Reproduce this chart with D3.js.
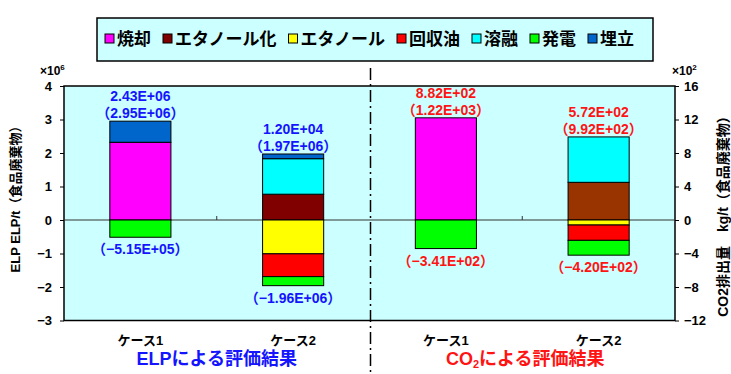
<!DOCTYPE html>
<html>
<head>
<meta charset="utf-8">
<script src="https://cdn.jsdelivr.net/npm/d3@7"></script>
<style>
  body { margin: 0; background: #fff; }
  text { font-family: "Liberation Sans", "Noto Sans CJK JP", sans-serif; font-weight: bold; }
</style>
</head>
<body>
<script>
// categories / series
const categories = ["ケース1", "ケース2", "ケース1", "ケース2"];
const series = ["焼却", "エタノール化", "エタノール", "回収油", "溶融", "発電", "埋立"];
const seriesColors = ["#ff00ff", "#800000", "#ffff00", "#ff0000", "#00ffff", "#00ff00", "#0066cc"];

// ELP/t values (stack order follows series)
const elpCase1 = [2.32e6, 0, 0, 0, 0, -0.515e6, 0.63e6];
const elpCase2 = [0, 0.77e6, -1.01e6, -0.68e6, 1.06e6, -0.27e6, 0.14e6];
// CO2 kg/t values
const co2Case1 = [1220, 0, 0, 0, 0, -341, 0];
const co2Case2 = [0, 450, -60, -183, 542, -177, 0];

const netLabels = ["2.43E+06", "1.20E+04", "8.82E+02", "5.72E+02"];
const posLabels = ["（2.95E+06）", "（1.97E+06）", "（1.22E+03）", "（9.92E+02）"];
const negLabels = ["（−5.15E+05）", "（−1.96E+06）", "（−3.41E+02）", "（−4.20E+02）"];

const leftTicks = [4, 3, 2, 1, 0, -1, -2, -3];
const rightTicks = [16, 12, 8, 4, 0, -4, -8, -12];

let W = 731, H = 374;
let plotL = 64, plotR = 675, plotT = 86, plotB = 320.5;

let svg = d3.select("body").append("svg")
  .attr("width", W).attr("height", H);

let x = d3.scaleBand().domain(d3.range(categories.length))
  .range([plotL, plotR]).paddingInner(0.6).paddingOuter(0.3);
let yL = d3.scaleLinear().domain([-3e6, 4e6]).range([plotB, plotT]);
let yR = d3.scaleLinear().domain([-1200, 1600]).range([plotB, plotT]);

// plot background
svg.append("rect")
  .attr("x", plotL).attr("y", plotT)
  .attr("width", plotR - plotL).attr("height", plotB - plotT)
  .attr("fill", "#ccffff").attr("stroke", "#000").attr("stroke-width", 1.5);

// zero line
svg.append("line")
  .attr("x1", plotL).attr("x2", plotR)
  .attr("y1", yL(0)).attr("y2", yL(0))
  .attr("stroke", "#333").attr("stroke-width", 1);

// small category ticks on zero line (band boundaries)
[1, 3].forEach(i => {
  let bx = plotL + x.step() * i;
  svg.append("line")
    .attr("x1", bx).attr("x2", bx)
    .attr("y1", yL(0)).attr("y2", yL(0) - 4)
    .attr("stroke", "#333");
});

// bars
const rows = [elpCase1, elpCase2, co2Case1, co2Case2].map((vals, i) => {
  let r = { i: i };
  series.forEach((s, k) => r[s] = vals[k]);
  return r;
});
let stack = d3.stack().keys(series).offset(d3.stackOffsetDiverging);
let layers = stack(rows);
let yOf = i => i < 2 ? yL : yR;

layers.forEach((layer, k) => {
  svg.append("g").selectAll("rect")
    .data(layer.filter(d => d[1] - d[0] !== 0))
    .join("rect")
      .attr("x", d => x(d.data.i))
      .attr("width", x.bandwidth())
      .attr("y", d => yOf(d.data.i)(Math.max(d[0], d[1])))
      .attr("height", d => Math.abs(yOf(d.data.i)(d[0]) - yOf(d.data.i)(d[1])))
      .attr("fill", d => (k === 1 && d.data.i === 3) ? "#993300" : seriesColors[k])
      .attr("stroke", "#000").attr("stroke-width", 1);
});

// value labels
rows.forEach((r, i) => {
  let y = yOf(i);
  let pos = d3.sum(series, s => Math.max(0, r[s]));
  let neg = d3.sum(series, s => Math.min(0, r[s]));
  let col = i < 2 ? "#1414ff" : "#ff1414";
  let cx = x(i) + x.bandwidth() / 2;
  svg.append("text").attr("x", cx).attr("y", y(pos) - 20)
    .attr("text-anchor", "middle").attr("font-size", 14).attr("fill", col).text(netLabels[i]);
  svg.append("text").attr("x", cx).attr("y", y(pos) - 3)
    .attr("text-anchor", "middle").attr("font-size", 14).attr("fill", col).text(posLabels[i]);
  svg.append("text").attr("x", cx).attr("y", y(neg) + 17)
    .attr("text-anchor", "middle").attr("font-size", 14).attr("fill", col).text(negLabels[i]);
});

// left axis
const leftAxis = svg.append("g")
  .attr("transform", "translate(" + plotL + ",0)")
  .call(d3.axisLeft(yL).tickValues(leftTicks.map(v => v * 1e6))
    .tickFormat(v => d3.format("d")(v / 1e6)).tickSize(4).tickPadding(8));
leftAxis.select(".domain").remove();
leftAxis.selectAll("text").attr("font-size", 13).attr("fill", "#000")
  .attr("font-family", "Liberation Sans, sans-serif").attr("font-weight", "bold");

// right axis
const rightAxis = svg.append("g")
  .attr("transform", "translate(" + plotR + ",0)")
  .call(d3.axisRight(yR).tickValues(rightTicks.map(v => v * 100))
    .tickFormat(v => d3.format("d")(v / 100)).tickSize(4).tickPadding(5));
rightAxis.select(".domain").remove();
rightAxis.selectAll("text").attr("font-size", 13).attr("fill", "#000")
  .attr("font-family", "Liberation Sans, sans-serif").attr("font-weight", "bold");

// multipliers
let m1 = svg.append("text").attr("x", 40).attr("y", 75).attr("font-size", 12);
m1.append("tspan").text("×10");
m1.append("tspan").attr("dy", -5).attr("font-size", 8).text("6");
let m2 = svg.append("text").attr("x", 672).attr("y", 75).attr("font-size", 12);
m2.append("tspan").text("×10");
m2.append("tspan").attr("dy", -5).attr("font-size", 8).text("2");

// axis titles
svg.append("text")
  .attr("transform", "translate(20,196) rotate(-90)")
  .attr("text-anchor", "middle").attr("font-size", 13).text("ELP ELP/t（食品廃棄物）");
let rt = svg.append("text")
  .attr("transform", "translate(728,213) rotate(-90)")
  .attr("text-anchor", "middle").attr("font-size", 14);
rt.append("tspan").text("CO2排出量");
rt.append("tspan").attr("dx", 14).text("kg/t（食品廃棄物）");

// category labels
svg.append("g").selectAll("text")
  .data(categories)
  .join("text")
    .attr("x", (d, i) => x(i) + x.bandwidth() / 2)
    .attr("y", 345)
    .attr("text-anchor", "middle").attr("font-size", 13)
    .text(d => d);

// group titles
let midX = plotL + x.step() * 2;
svg.append("text").attr("x", (plotL + midX) / 2).attr("y", 365)
  .attr("text-anchor", "middle").attr("font-size", 18).attr("fill", "#1414ff")
  .text("ELPによる評価結果");
let co2t = svg.append("text").attr("x", (midX + plotR) / 2 + 3).attr("y", 365)
  .attr("text-anchor", "middle").attr("font-size", 18).attr("fill", "#ff1414");
co2t.append("tspan").text("CO");
co2t.append("tspan").attr("font-size", 11).attr("dy", 3).text("2");
co2t.append("tspan").attr("dy", -3).text("による評価結果");

// divider
svg.append("line")
  .attr("x1", midX + 1).attr("x2", midX + 1)
  .attr("y1", 68).attr("y2", H)
  .attr("stroke", "#000").attr("stroke-width", 1.5)
  .attr("stroke-dasharray", "12,4,2,4");

// legend
let lg = svg.append("g");
lg.append("rect")
  .attr("x", 97).attr("y", 18).attr("width", 556).attr("height", 43)
  .attr("fill", "#ccffff").attr("stroke", "#000").attr("stroke-width", 1.5);
let lx = 105;
series.forEach((s, k) => {
  lg.append("rect").attr("x", lx).attr("y", 34).attr("width", 9).attr("height", 9)
    .attr("fill", seriesColors[k]).attr("stroke", "#000").attr("stroke-width", 1);
  let t = lg.append("text").attr("x", lx + 12).attr("y", 45).attr("font-size", 17).text(s);
  lx += 12 + t.node().getComputedTextLength() + 12;
});
</script>
</body>
</html>
